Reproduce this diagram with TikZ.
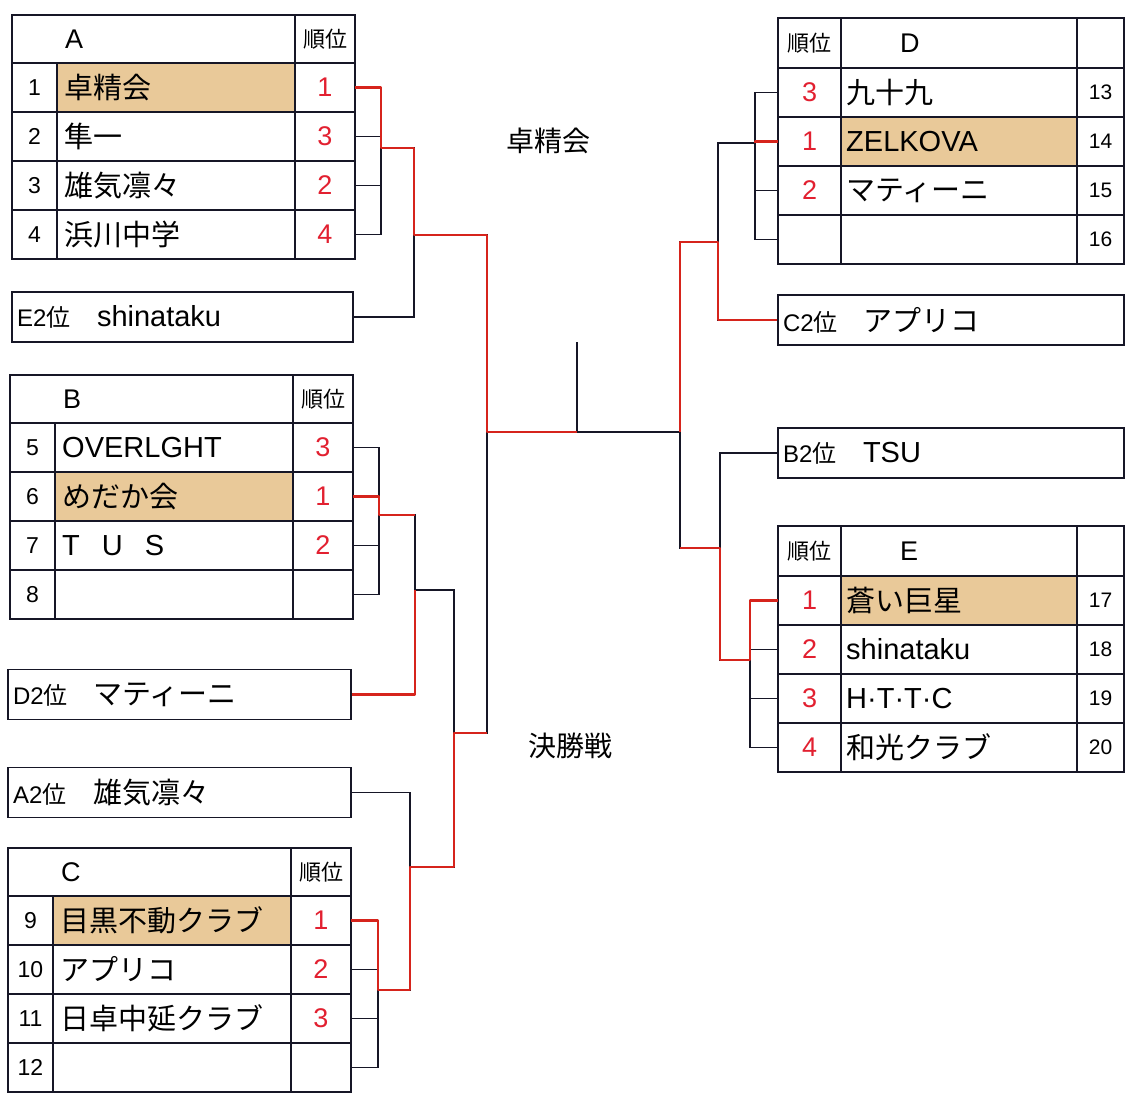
\documentclass[tikz,border=0pt]{standalone}
\usepackage{fontspec}
\setmainfont{Liberation Sans}
\newfontfamily\jp{Noto Sans CJK JP}
\usepackage{tikz}
\usetikzlibrary{positioning}

\definecolor{hl}{RGB}{233,201,153}
\definecolor{rk}{RGB}{226,32,48}
\definecolor{mk}{RGB}{214,36,28}
\definecolor{ln}{RGB}{22,22,38}

\newcommand{\fs}[1]{\fontsize{#1}{#1}\selectfont}

% group table, number column on the left: #1 prefix, #2 letter, #3 rows
\newcommand{\grpleft}[3]{%
  \foreach \row/\no/\team/\rnk/\won in {#3}{%
    \ifnum\won=1 \fill[hl] (45,{48+(\row-1)*49}) rectangle (283,{48+\row*49});\fi
    \node[numtx] at (22.5,{48+(\row-.5)*49}) {\no};
    \node[nametx] at (52,{48+(\row-.5)*49}) {\team};
    \node[rankcell] (#1\row) at (313,{48+(\row-.5)*49}) {\rnk};
  }
  \draw[tbl] (0,0) rectangle (343,244);
  \foreach \k in {0,1,2,3} \draw[tbl] (0,{48+\k*49}) -- (343,{48+\k*49});
  \draw[tbl] (45,48) -- (45,244);
  \draw[tbl] (283,0) -- (283,244);
  \node[hdrtx] at (53,24) {#2};
  \node[rkhdr] at (313,24) {順位};
}

% group table, rank column on the left
\newcommand{\grpright}[3]{%
  \foreach \row/\rnk/\team/\no/\won in {#3}{%
    \ifnum\won=1 \fill[hl] (63,{50+(\row-1)*49}) rectangle (299,{50+\row*49});\fi
    \node[rankcell,minimum width=63pt] (#1\row) at (31.5,{50+(\row-.5)*49}) {\rnk};
    \node[nametx] at (68,{50+(\row-.5)*49}) {\team};
    \node[notx] at (322.5,{50+(\row-.5)*49}) {\no};
  }
  \draw[tbl] (0,0) rectangle (346,246);
  \foreach \k in {0,1,2,3} \draw[tbl] (0,{50+\k*49}) -- (346,{50+\k*49});
  \draw[tbl] (63,0) -- (63,246);
  \draw[tbl] (299,0) -- (299,246);
  \node[hdrtx] at (122,25) {#2};
  \node[rkhdr] at (31.5,25) {順位};
}

\begin{document}
\begin{tikzpicture}[x=1pt,y=-1pt,
  tbl/.style={draw=ln,line width=1.8pt},
  br/.style={draw=ln,line width=1.2pt},
  win/.style={draw=mk,line width=2.6pt,line join=round},
  numtx/.style={inner sep=0,font=\fs{23}},
  notx/.style={inner sep=0,font=\fs{21}},
  nametx/.style={anchor=west,inner sep=0,font=\fs{29}},
  rankcell/.style={minimum width=60pt,minimum height=49pt,inner sep=0,text=rk,font=\fs{27}},
  hdrtx/.style={anchor=west,inner sep=0,font=\fs{27}},
  rkhdr/.style={inner sep=0,font=\jp\fs{22}},
  slot/.style={draw=ln,line width=1.8pt,minimum height=50pt,inner xsep=5pt,inner ysep=0,align=left,font=\fs{24}},
  title/.style={font=\jp\fs{28}}]
\useasboundingbox (0,0) rectangle (1126,1092);
\fill[white] (0,0) rectangle (1126,1092);

% groups
\begin{scope}[shift={(12,15)}]
\grpleft{A}{A}{1/1/{\jp 卓精会}/1/1, 2/2/{\jp 隼一}/3/0, 3/3/{\jp 雄気凛々}/2/0, 4/4/{\jp 浜川中学}/4/0}
\end{scope}
\begin{scope}[shift={(10,375)}]
\grpleft{B}{B}{1/5/OVERLGHT/3/0, 2/6/{\jp めだか会}/1/1, 3/7/{T\hspace{22pt}U\hspace{22pt}S}/2/0, 4/8/{}/{}/0}
\end{scope}
\begin{scope}[shift={(8,848)}]
\grpleft{C}{C}{1/9/{\jp 目黒不動クラブ}/1/1, 2/10/{\jp アプリコ}/2/0, 3/11/{\jp 日卓中延クラブ}/3/0, 4/12/{}/{}/0}
\end{scope}
\begin{scope}[shift={(778,18)}]
\grpright{D}{D}{1/3/{\jp 九十九}/13/0, 2/1/ZELKOVA/14/1, 3/2/{\jp マティーニ}/15/0, 4/{}/{}/16/0}
\end{scope}
\begin{scope}[shift={(778,526)}]
\grpright{E}{E}{1/1/{\jp 蒼い巨星}/17/1, 2/2/shinataku/18/0, 3/3/H·T·T·C/19/0, 4/4/{\jp 和光クラブ}/20/0}
\end{scope}

% runners-up slots
\node[slot,text width=331pt] (slotE) at (182.5,317) {\makebox[80pt][l]{E2{\jp 位}}{\fs{29}shinataku}};
\node[slot,text width=333pt] (slotD) at (179.5,694.5) {\makebox[80pt][l]{D2{\jp 位}}{\fs{29}\jp マティーニ}};
\node[slot,text width=333pt] (slotA) at (179.5,792.5) {\makebox[80pt][l]{A2{\jp 位}}{\fs{29}\jp 雄気凛々}};
\node[slot,text width=336pt] (slotC) at (951,320) {\makebox[80pt][l]{C2{\jp 位}}{\fs{29}\jp アプリコ}};
\node[slot,text width=336pt] (slotB) at (951,453) {\makebox[80pt][l]{B2{\jp 位}}{\fs{29}TSU}};

\node[title] (champ) at (548,141) {卓精会};
\node[title] (final) at (570,746) {決勝戦};

% junctions
\coordinate (ja) at (381,148);
\coordinate (jae) at (414,235);
\coordinate (jb) at (379,515);
\coordinate (jbd) at (415,590);
\coordinate (jc) at (378,990);
\coordinate (jca) at (410,867);
\coordinate (jcd) at (454,733);
\coordinate (sf1) at (487,432);
\coordinate (fin) at (577,432);
\coordinate (fintop) at (577,342);
\coordinate (sf2) at (680,432);
\coordinate (jd) at (755,143);
\coordinate (jdc) at (718,242);
\coordinate (je) at (750,660);
\coordinate (jeb) at (720,548);

% bracket lines
\foreach \k in {1,4} {
  \draw[br] (A\k.east) -| (ja);
  \draw[br] (B\k.east) -| (jb);
  \draw[br] (C\k.east) -| (jc);
  \draw[br] (D\k.west) -| (jd);
  \draw[br] (E\k.west) -| (je);
}
\foreach \k in {2,3} {
  \draw[br] (A\k.east) -- (A\k.east -| ja);
  \draw[br] (B\k.east) -- (B\k.east -| jb);
  \draw[br] (C\k.east) -- (C\k.east -| jc);
  \draw[br] (D\k.west) -- (D\k.west -| jd);
  \draw[br] (E\k.west) -- (E\k.west -| je);
}
\draw[br] (ja) -| (jae);
\draw[br] (slotE.east) -| (jae);
\draw[br] (jb) -| (jbd);
\draw[br] (slotD.east) -| (jbd);
\draw[br] (jc) -| (jca);
\draw[br] (slotA.east) -| (jca);
\draw[br] (jbd) -| (jcd);
\draw[br] (jca) -| (jcd);
\draw[br] (jae) -| (sf1);
\draw[br] (jcd) -| (sf1);
\draw[br] (sf1) -- (sf2);
\draw[br] (fin) -- (fintop);
\draw[br] (jd) -| (jdc);
\draw[br] (slotC.west) -| (jdc);
\draw[br] (je) -| (jeb);
\draw[br] (slotB.west) -| (jeb);
\draw[br] (jdc) -| (sf2);
\draw[br] (jeb) -| (sf2);

% winners marked in red
\draw[win] (A1.east) -| (ja) -| (jae) -| (sf1) -- (fin);
\draw[win] (B2.east) -| (jb) -- (jb -| jbd);
\draw[win] (slotD.east) -| (jbd);
\draw[win] (C1.east) -| (jc) -| (jca) -| (jcd) -- (jcd -| sf1);
\draw[win] (D2.west) -| (jd);
\draw[win] (slotC.west) -| (jdc) -| (sf2);
\draw[win] (E1.west) -| (je) -| (jeb) -- (jeb -| sf2);
\end{tikzpicture}
\end{document}
